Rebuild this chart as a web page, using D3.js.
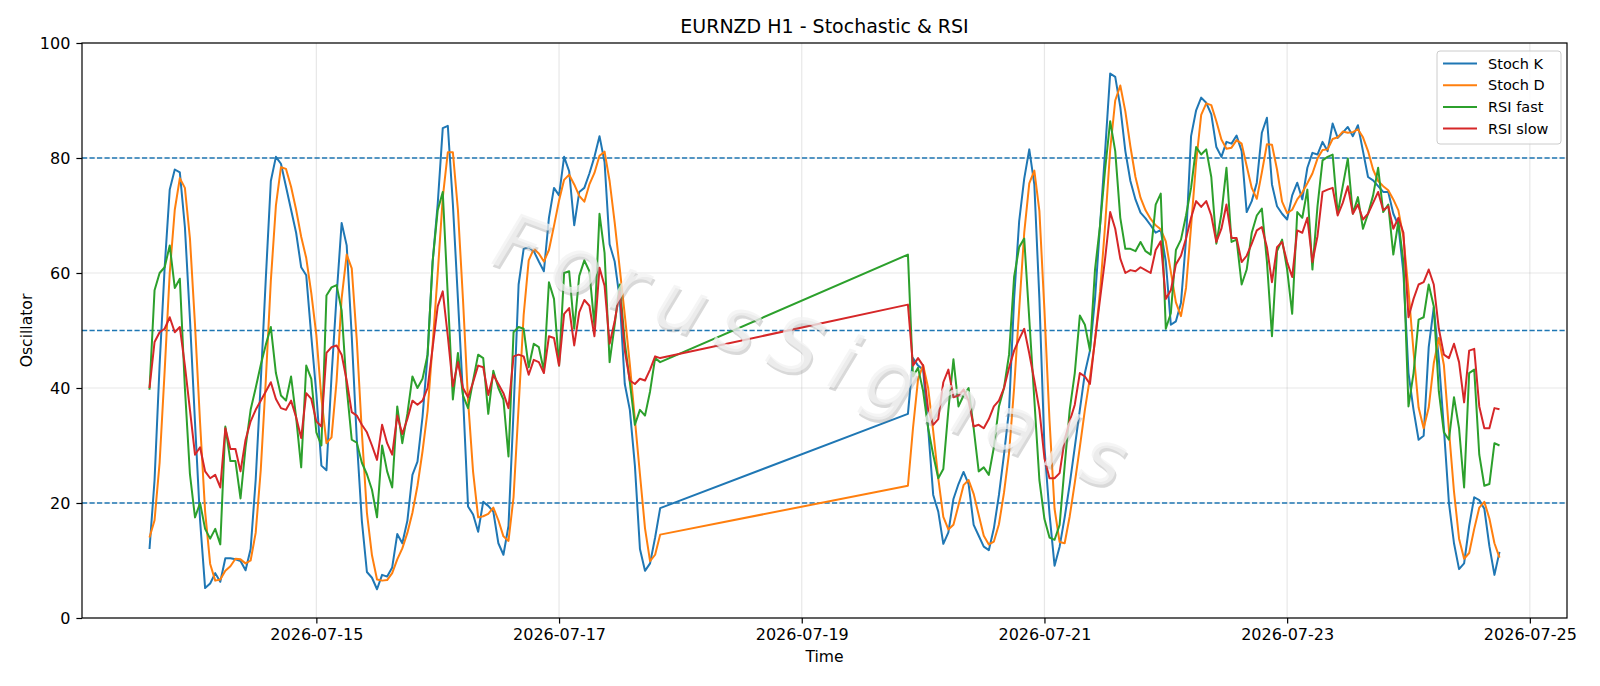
<!DOCTYPE html>
<html>
<head>
<meta charset="utf-8">
<script src="https://cdn.jsdelivr.net/npm/d3@7"></script>
<style>
  body { margin: 0; background: #fff; }
  svg { display: block; font-family: 'DejaVu Sans', sans-serif; }
</style>
</head>
<body>
<div id="chart"></div>
<script>
// hourly bars, two trading sessions (weekend gap in between)
const sessionStarts = ['2026-07-13T15:00:00Z', '2026-07-19T21:00:00Z'];
const sessionLengths = [102, 118];

const xTickLabels = ['2026-07-15', '2026-07-17', '2026-07-19', '2026-07-21', '2026-07-23', '2026-07-25'];
const yTicks = [0, 20, 40, 60, 80, 100];
const levels = [20, 50, 80];
const seriesNames = ['Stoch K', 'Stoch D', 'RSI fast', 'RSI slow'];

const stochK = [
  12, 24, 44, 61, 74.5, 78, 77.5, 68, 52, 34, 17, 5.2, 6, 7.8, 6.3, 10.4, 10.4, 10.2, 9.9, 8.3,
  12, 24, 41, 59, 76, 80.2, 79, 75, 71, 67, 61, 59.6, 49, 39, 26.5, 25.7, 42, 56, 68.7, 64.8,
  49, 31, 16.9, 8, 7, 5, 7.5, 7.2, 8.8, 14.6, 13, 16.9, 24.9, 27.2, 35, 45.8, 62, 72, 85.2, 85.6,
  72, 55.5, 38.7, 19.4, 18, 15, 20.2, 19.5, 18.5, 13, 11, 16, 36, 58, 64.2, 64.5, 63.8, 62, 60.3, 69.6,
  74.8, 73.5, 80.2, 77.7, 68.3, 74.1, 74.8, 77.3, 80.2, 83.8, 79.3, 65, 62, 55.5, 40.7, 36.2, 26.5, 12, 8.2, 9.5,
  14, 19.1,
  35.5, 45.2, 43.9, 43.2, 33, 21.4, 18.5, 12.9, 14.9, 20.7, 23.3, 25.4, 23.3, 16.2, 14.3, 12.4, 11.8, 15.6, 21.4, 28.4,
  36.2, 55.5, 69, 76.4, 81.5, 75.4, 55.5, 29.7, 18.1, 9.1, 12.4, 17.5, 23.3, 29.7, 36.2, 42.6, 46.5, 55.5, 68.3, 81.2,
  94.7, 94.1, 88.9, 81.2, 76, 72.8, 70.5, 69.5, 68.3, 67, 67.5, 62, 51, 51.6, 54.8, 65.8, 83.8, 88.3, 90.5, 89.6,
  87.6, 81.9, 80.2, 82.8, 82.5, 83.9, 81.2, 70.6, 72.5, 75.7, 84.4, 87, 75.4, 71.6, 70.3, 69.3, 73.5, 75.7, 72.8, 78.3,
  80.9, 80.6, 82.8, 81.2, 86, 83.5, 84.4, 85.4, 83.8, 85.7, 81.2, 76.7, 76.1, 75.1, 74.1, 74.1, 70.3, 68.3, 60, 42.6,
  36.2, 31, 31.7, 47.1, 54, 45, 33, 20, 13, 8.5, 9.5, 16, 21, 20.5, 19, 12.5, 7.5, 11.5,
];

const stochD = [
  14, 17, 27, 43, 60, 71, 76.5, 74.8, 66, 51, 34, 18.5, 9.4, 6.5, 6.7, 8.2, 9, 10.3, 10.2, 9.5,
  10, 14.8, 25.7, 41.3, 58.7, 71.7, 78.4, 78.1, 75, 71, 66.3, 62.6, 56.5, 49.2, 38.2, 30.4, 31.4, 41.2, 55.6, 63.2,
  60.8, 48.3, 32.3, 18.3, 10.9, 6.7, 6.5, 6.6, 7.8, 10.2, 12.1, 14.8, 18.3, 23, 29, 36, 47.6, 59.9, 73.1, 81,
  81, 71, 55.4, 37.9, 25.4, 17.5, 17.7, 18.1, 19.2, 17, 14.2, 13.4, 21, 36.7, 52.7, 62.2, 64.2, 63.4, 62, 64,
  68.2, 72.6, 76.2, 77.1, 75.4, 73.4, 72.4, 75.4, 77.4, 80.4, 81.1, 76, 68.8, 60.8, 52.7, 44.1, 34.5, 25, 15.6, 9.9,
  11, 14.5,
  23, 33, 41.5, 44, 40, 32.5, 24.3, 17.6, 15.4, 16.2, 19.6, 23.1, 24, 21.6, 17.9, 14.3, 12.8, 13.3, 16.3, 21.8,
  28.7, 40, 53.6, 67, 75.6, 77.8, 70.8, 53.5, 34.4, 19, 13.2, 13, 17.7, 23.5, 29.7, 36.2, 41.8, 48.2, 56.8, 68.3,
  81.4, 90, 92.6, 88.1, 82, 76.7, 73.1, 70.9, 69.4, 68.3, 67.6, 65.5, 60.2, 54.9, 52.5, 57.4, 68.1, 79.3, 87.5, 89.5,
  89.2, 86.4, 83.2, 81.6, 81.8, 83.1, 82.5, 78.6, 74.8, 72.9, 77.5, 82.4, 82.3, 78, 72.4, 70.4, 71, 72.8, 74, 75.6,
  77.3, 79.9, 81.4, 81.5, 83.3, 83.6, 84.6, 84.4, 84.5, 85, 83.6, 81.2, 78, 76, 75.1, 74.4, 72.8, 70.9, 66.2, 57,
  46.3, 36.6, 33, 36.6, 44.3, 48.7, 44, 32.7, 22, 13.8, 10.3, 11.3, 15.5, 19.2, 20.2, 17.3, 13, 10.5,
];

const rsiFast = [
  39.7, 57, 60, 61, 64.8, 57.4, 59, 40, 25, 17.5, 20, 15.5, 13.8, 15.5, 12.8, 33.3, 27.3, 27.3, 20.8, 29.7,
  36.2, 40, 44, 47.5, 50.6, 42.6, 38.7, 37.8, 42, 34.9, 26.2, 43.9, 41.6, 32.3, 30, 56.1, 57.5, 57.9, 53.5, 40,
  31, 30.5, 27, 25, 22.3, 17.5, 30, 25.5, 22.7, 36.8, 30.4, 35.5, 42, 40, 41.6, 45.8, 62, 70.9, 74.1, 56,
  38, 46.1, 38.7, 36.5, 41.3, 45.8, 45.2, 35.5, 43, 40, 38, 28.1, 49.7, 50.6, 50.3, 43.6, 47.7, 47.1, 43, 58.4,
  55.5, 43.9, 60, 60.3, 50.3, 59.5, 62.2, 60.3, 50.8, 70.3, 63.5, 44.5, 51, 58, 48, 41, 33.6, 36.2, 35.2, 39.4,
  45.2, 44.5,
  63.2, 42, 43.5, 39.5, 33, 28.4, 24.3, 25.9, 36.2, 45, 36.8, 38.7, 40, 33, 25.5, 26.2, 24.9, 29.7, 36.8, 40,
  45.8, 59.3, 64.5, 66, 52, 38, 24, 17.2, 14, 13.6, 16.2, 26.5, 36.2, 42.6, 52.6, 51, 46.5, 60.6, 68.3, 78,
  86.4, 81.2, 69.6, 64.2, 64.2, 63.8, 65.4, 63.8, 63.2, 71.9, 73.8, 50.3, 53, 64, 65.8, 70, 74.8, 81.9, 80.6, 81.5,
  76.7, 65.1, 70.3, 78.3, 65.4, 65.8, 58, 60.6, 67, 70, 71.2, 62, 49, 63.8, 65.8, 60.6, 52.9, 70.6, 69.6, 74.5,
  60.6, 71.6, 79.6, 80.2, 80.6, 70.3, 75.1, 79.9, 70.3, 73.2, 67.7, 70.3, 73.5, 78.3, 70.6, 71.9, 63.2, 69, 61.9, 36.8,
  42.6, 51.9, 52.3, 58, 54.2, 39.4, 32.3, 31, 38.4, 33, 22.7, 42.6, 43.2, 28.4, 23, 23.3, 30.4, 30,
];

const rsiSlow = [
  40, 48, 49.7, 50.3, 52.3, 49.7, 50.6, 43.9, 36.2, 28.4, 29.7, 25.5, 24.3, 24.9, 22.7, 33, 29.4, 29.4, 25.5, 31,
  34.2, 36.2, 37.8, 39.4, 41, 38.1, 36.5, 36.2, 37.8, 34.9, 31.3, 39.1, 38.1, 34.2, 33.3, 46.1, 47.1, 47.4, 45.8, 41.3,
  35.8, 35.2, 33.6, 32.3, 30, 27.5, 33.6, 30.4, 28.4, 35.2, 32, 34.6, 37.8, 37.1, 37.8, 40, 47, 54.2, 56.8, 49,
  40.3, 44.5, 40, 38.4, 41, 43.9, 43.6, 38.8, 42.3, 40.7, 39.1, 36.5, 45.5, 45.8, 45.5, 42.3, 44.9, 44.5, 42.6, 49,
  48.7, 43.9, 52.9, 53.9, 47.4, 53.2, 55.3, 54.3, 49, 60.9, 57.8, 47.7, 51.6, 56.8, 46.5, 41.3, 40.7, 41.6, 41.3, 43.2,
  45.5, 45.2,
  54.5, 43.9, 45.2, 43.9, 36.2, 33.6, 34.6, 41, 43.2, 38.4, 38.7, 39.7, 37.8, 33.3, 33.6, 33, 34.6, 36.8, 37.8, 40,
  43.5, 46.5, 48.5, 50.3, 46, 41.3, 36.2, 27.8, 24.3, 24.3, 25.2, 31, 34.2, 37.1, 42.6, 42, 40.7, 48.4, 55.5, 62.5,
  70.6, 67.7, 62.5, 60, 60.5, 60.3, 61, 60.5, 60, 64, 65.5, 55.5, 57, 61.5, 63, 66, 69.6, 72.5, 71.5, 72.5,
  70, 65.4, 67.7, 71.9, 66.1, 66.1, 61.9, 63, 65.1, 67.4, 68, 64.5, 58.4, 64.5, 65.4, 61.9, 59.3, 67.4, 67, 69.6,
  61.9, 66.4, 74.1, 74.5, 74.8, 70, 72.2, 75.1, 70.3, 71.9, 69.3, 70.3, 72.2, 74.1, 70.9, 71.6, 67.7, 69.6, 67, 52.3,
  55.5, 58, 58.4, 60.6, 58, 50.3, 45.8, 45.2, 47.7, 44.5, 37.5, 46.5, 46.8, 36.8, 33, 33, 36.5, 36.3,
];

// Oscillator chart
const drawOscillator = (() => {
  const margin = {
    top: 43, right: 33, bottom: 68, left: 82,
  };
  const width = 1600 - margin.left - margin.right;
  const height = 686 - margin.top - margin.bottom;

  const colors = ['#1f77b4', '#ff7f0e', '#2ca02c', '#d62728'];
  const parseTime = d3.utcParse('%Y-%m-%dT%H:%M:%SZ');
  const parseDay = d3.utcParse('%Y-%m-%d');

  // hourly timestamps for each value
  const times = [];
  sessionStarts.forEach((s, k) => {
    const t0 = parseTime(s);
    for (let i = 0; i < sessionLengths[k]; i += 1) times.push(d3.utcHour.offset(t0, i));
  });

  const [t0, t1] = d3.extent(times);
  const pad = (t1 - t0) * 0.05;
  const x = d3.scaleUtc()
    .domain([new Date(+t0 - pad), new Date(+t1 + pad)])
    .range([0, width]);
  const y = d3.scaleLinear().domain([0, 100]).range([height, 0]);

  const svg = d3.select('#chart').append('svg')
    .attr('width', 1600)
    .attr('height', 686);

  const g = svg.append('g')
    .attr('transform', `translate(${margin.left},${margin.top})`);

  // grid
  g.append('g').selectAll('line')
    .data(yTicks)
    .enter().append('line')
    .attr('x1', 0).attr('x2', width)
    .attr('y1', d => y(d)).attr('y2', d => y(d))
    .attr('stroke', '#b0b0b0').attr('stroke-opacity', 0.3).attr('stroke-width', 1.2);
  g.append('g').selectAll('line')
    .data(xTickLabels.map(parseDay))
    .enter().append('line')
    .attr('x1', d => x(d)).attr('x2', d => x(d))
    .attr('y1', 0).attr('y2', height)
    .attr('stroke', '#b0b0b0').attr('stroke-opacity', 0.3).attr('stroke-width', 1.2);

  // reference levels
  g.append('g').selectAll('line')
    .data(levels)
    .enter().append('line')
    .attr('x1', 0).attr('x2', width)
    .attr('y1', d => y(d)).attr('y2', d => y(d))
    .attr('stroke', '#1f77b4')
    .attr('stroke-width', 1.3)
    .attr('stroke-dasharray', '5.2,2.3');

  const series = [stochK, stochD, rsiFast, rsiSlow];
  const line = d3.line()
    .x(d => x(d.t))
    .y(d => y(d.v));

  series.forEach((vals, k) => {
    g.append('path')
      .datum(vals.map((v, i) => ({ t: times[i], v })))
      .attr('fill', 'none')
      .attr('stroke', colors[k])
      .attr('stroke-width', 2)
      .attr('stroke-linejoin', 'round')
      .attr('d', line);
  });

  // watermark
  const wm = g.append('g')
    .attr('transform', `translate(${x(parseTime('2026-07-19T00:00:00Z'))},${y(42)}) rotate(20)`);
  wm.append('text')
    .attr('x', 2.5).attr('y', 2.5)
    .attr('text-anchor', 'middle')
    .attr('font-size', 78)
    .attr('font-style', 'italic')
    .attr('textLength', 665)
    .attr('lengthAdjust', 'spacing')
    .attr('fill', '#808080')
    .attr('fill-opacity', 0.3)
    .text('ForusSignals');
  wm.append('text')
    .attr('text-anchor', 'middle')
    .attr('font-size', 78)
    .attr('font-style', 'italic')
    .attr('textLength', 665)
    .attr('lengthAdjust', 'spacing')
    .attr('fill', '#f2f2f2')
    .attr('fill-opacity', 0.75)
    .text('ForusSignals');

  // axes
  const xAxis = g.append('g')
    .attr('transform', `translate(0,${height})`)
    .call(d3.axisBottom(x)
      .tickValues(xTickLabels.map(parseDay))
      .tickFormat(d3.utcFormat('%Y-%m-%d'))
      .tickSize(5.6)
      .tickPadding(5));
  const yAxis = g.append('g')
    .call(d3.axisLeft(y)
      .tickValues(yTicks)
      .tickSize(5.6)
      .tickPadding(6));
  [xAxis, yAxis].forEach((a) => {
    a.select('.domain').remove();
    a.selectAll('text').attr('font-size', 16).attr('fill', '#000')
      .attr('font-family', "'DejaVu Sans', sans-serif");
    a.selectAll('line').attr('stroke', '#000').attr('stroke-width', 1.2);
  });

  g.append('rect')
    .attr('width', width)
    .attr('height', height)
    .attr('fill', 'none')
    .attr('stroke', '#000')
    .attr('stroke-width', 1.2);

  // labels
  svg.append('text')
    .attr('x', margin.left + width / 2)
    .attr('y', 33)
    .attr('text-anchor', 'middle')
    .attr('font-size', 19)
    .text('EURNZD H1 - Stochastic & RSI');
  svg.append('text')
    .attr('x', margin.left + width / 2)
    .attr('y', 662)
    .attr('text-anchor', 'middle')
    .attr('font-size', 15.6)
    .text('Time');
  svg.append('text')
    .attr('transform', `translate(31.5,${margin.top + height / 2}) rotate(-90)`)
    .attr('text-anchor', 'middle')
    .attr('font-size', 15.6)
    .text('Oscillator');

  // legend
  const lg = svg.append('g').attr('transform', 'translate(1437,51)');
  lg.append('rect')
    .attr('width', 124).attr('height', 93)
    .attr('rx', 3)
    .attr('fill', '#fff').attr('fill-opacity', 0.8)
    .attr('stroke', '#cccccc');
  const item = lg.selectAll('.legend')
    .data(seriesNames)
    .enter().append('g')
    .attr('class', 'legend')
    .attr('transform', (d, i) => `translate(0,${12.5 + i * 21.7})`);
  item.append('line')
    .attr('x1', 6).attr('x2', 40)
    .attr('stroke', (d, i) => colors[i])
    .attr('stroke-width', 2);
  item.append('text')
    .attr('x', 51)
    .attr('dy', '.35em')
    .attr('font-size', 14.5)
    .text(d => d);
})();
</script>
</body>
</html>
